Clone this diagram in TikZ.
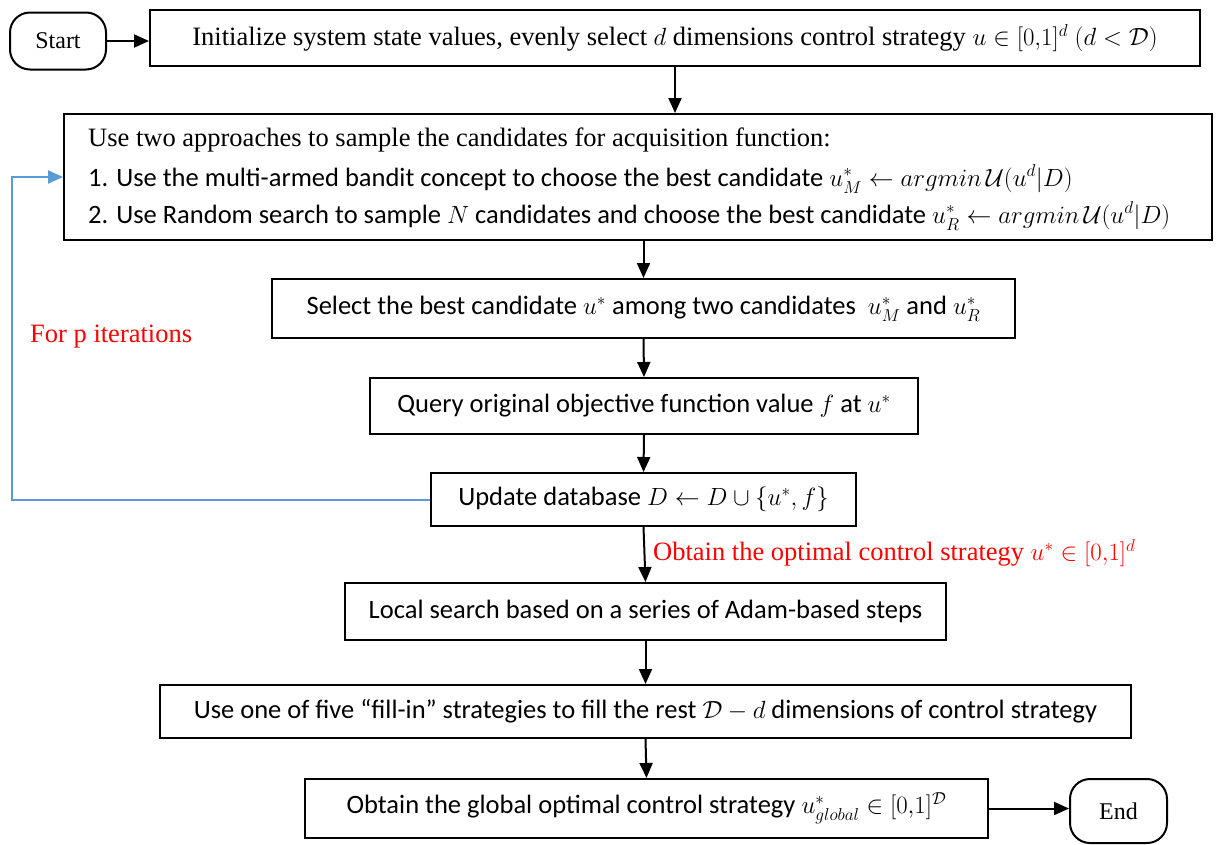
\documentclass[tikz,border=0pt]{standalone}
\usepackage{fontspec}
\usepackage{amsmath}
\usepackage{amssymb}
\setmainfont{Liberation Serif}
\newfontfamily\calibrifont{Carlito}
\usetikzlibrary{arrows.meta}
\definecolor{loopblue}{RGB}{91,155,213}

\tikzset{
  stepbox/.style={draw, line width=2pt, inner sep=0pt, align=center},
  termbox/.style={draw, line width=2pt, rounded corners=20pt, inner sep=0pt, font=\fontsize{24}{28}\selectfont},
  flow/.style={line width=2pt, -{Triangle[length=15pt,width=13pt]}},
  loopline/.style={line width=2pt, loopblue, -{Triangle[length=15pt,width=13pt]}},
  timesfont/.style={font=\fontsize{26.5}{30}\selectfont},
  calfont/.style={font=\calibrifont\fontsize{26.5}{30}\selectfont},
  redlabel/.style={red, anchor=west, inner sep=0pt, font=\fontsize{26.5}{30}\selectfont}
}

\begin{document}
\begin{tikzpicture}[x=1pt,y=1pt,yscale=-1]
\useasboundingbox (0,0) rectangle (1216,844);

% terminals
\node [termbox, minimum width=96, minimum height=57] (start) at (58,41) {Start};
\node [termbox, minimum width=97, minimum height=64] (end) at (1118.5,811) {End};

% steps
\node [stepbox, timesfont, minimum width=1050, minimum height=56] (init) at (675,38) {Initialize system state values, evenly select $d$ dimensions control strategy $u \in [0{,}1]^d$ $(d < \mathcal{D})$};

\node [stepbox, minimum width=1148, minimum height=126] (cand) at (638,177) {};
\node [anchor=west, inner sep=0pt, timesfont] (candA) at (88,140) {Use two approaches to sample the candidates for acquisition function:};
\node [anchor=west, inner sep=0pt, calfont] (candB) at (88,179) {1. Use the multi-armed bandit concept to choose the best candidate $u^*_M \leftarrow argmin\,\mathcal{U}(u^d|D)$};
\node [anchor=west, inner sep=0pt, calfont] (candC) at (88,216) {2. Use Random search to sample $N$ candidates and choose the best candidate $u^*_R \leftarrow argmin\,\mathcal{U}(u^d|D)$};

\node [stepbox, calfont, minimum width=743, minimum height=59] (select) at (643.5,308.5) {Select the best candidate $u^*$ among two candidates~ $u^*_M$ and $u^*_R$};
\node [stepbox, calfont, minimum width=548, minimum height=56] (query) at (644,406) {Query original objective function value $f$ at $u^*$};
\node [stepbox, calfont, minimum width=425, minimum height=53] (update) at (643.5,499.5) {Update database $D \leftarrow D \cup \{u^*, f\}$};
\node [stepbox, calfont, minimum width=601, minimum height=57] (local) at (645.5,611.5) {Local search based on a series of Adam-based steps};
\node [stepbox, calfont, minimum width=971, minimum height=53] (fill) at (645.5,711.5) {Use one of five “fill-in” strategies to fill the rest $\mathcal{D}-d$ dimensions of control strategy};
\node [stepbox, calfont, minimum width=683, minimum height=59] (global) at (646.5,808.5) {Obtain the global optimal control strategy $u^*_{global} \in [0{,}1]^{\mathcal{D}}$};

% labels
\node [redlabel] (iter) at (30,337) {For p iterations};
\node [redlabel] (optimal) at (653,553) {Obtain the optimal control strategy $u^* \in [0{,}1]^d$};

% connectors
\draw [flow] (start.east) -- (start.east -| init.west);
\draw [flow] (init.south) -- (init.south |- cand.north);
\draw [flow] (select.north |- cand.south) -- (select.north);
\draw [flow] (select.south) -- (query.north);
\draw [flow] (query.south) -- (update.north);
\draw [flow] (update.south) -- (local.north);
\draw [flow] (local.south) -- (fill.north);
\draw [flow] (fill.south) -- (global.north);
\draw [flow] (global.east) -- (global.east -| end.west);
\draw [loopline] (update.west) -| ([xshift=-51pt]cand.west) -- (cand.west);

\end{tikzpicture}
\end{document}
